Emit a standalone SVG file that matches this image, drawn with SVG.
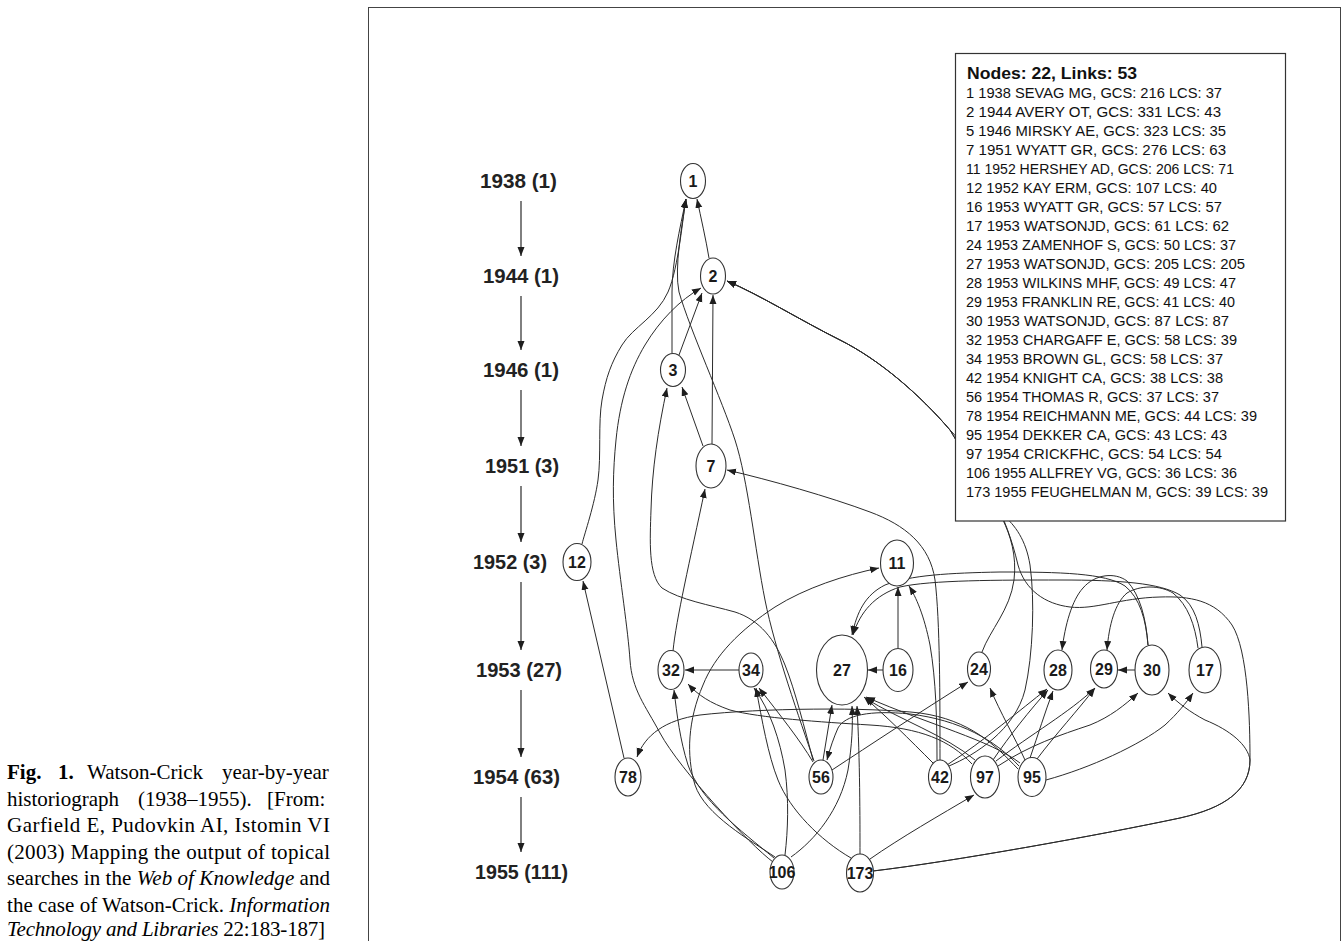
<svg xmlns="http://www.w3.org/2000/svg" width="1344" height="941" viewBox="0 0 1344 941">
<defs>
<marker id="ah" markerUnits="userSpaceOnUse" markerWidth="10" markerHeight="8" refX="9" refY="3.5" orient="auto"><path d="M0,0 L9,3.5 L0,7 z" fill="#1e1e1e"/></marker>
<style>
.edge{fill:none;stroke:#2b2b2b;stroke-width:1;marker-end:url(#ah)}
.yarr{fill:none;stroke:#2b2b2b;stroke-width:1.2;marker-end:url(#ah)}
.node ellipse{fill:#fff;stroke:#333;stroke-width:1.1}
.node text{font-family:"Liberation Sans",Arial,sans-serif;font-weight:bold;font-size:16px;text-anchor:middle;fill:#1a1a1a}
.yr{font-family:"Liberation Sans",Arial,sans-serif;font-weight:bold;font-size:20px;fill:#222}
.lg{font-family:"Liberation Sans",Arial,sans-serif;font-size:14.5px;fill:#111}
.lgh{font-family:"Liberation Sans",Arial,sans-serif;font-size:17px;font-weight:bold;fill:#111}
.cap{font-family:"Liberation Serif","Times New Roman",serif;font-size:21px;fill:#000}
</style>
</defs>
<rect x="0" y="0" width="1344" height="941" fill="#fff"/>
<rect x="368.5" y="7.5" width="972" height="945" fill="none" stroke="#444" stroke-width="1"/>

<g id="caption" class="cap">
<text y="779"><tspan x="7" font-weight="bold">Fig.</tspan><tspan x="58" font-weight="bold">1.</tspan><tspan x="87">Watson-Crick</tspan><tspan x="222">year-by-year</tspan></text>
<text y="805.6"><tspan x="7">historiograph</tspan><tspan x="138">(1938–1955).</tspan><tspan x="267">[From:</tspan></text>
<text x="7" y="832.2" textLength="323" lengthAdjust="spacing">Garfield E, Pudovkin AI, Istomin VI</text>
<text x="7" y="858.8" textLength="323" lengthAdjust="spacing">(2003) Mapping the output of topical</text>
<text x="7" y="885.4" textLength="323" lengthAdjust="spacing">searches in the <tspan font-style="italic">Web of Knowledge</tspan> and</text>
<text x="7" y="912" textLength="323" lengthAdjust="spacing">the case of Watson-Crick. <tspan font-style="italic">Information</tspan></text>
<text x="7" y="936" textLength="318" lengthAdjust="spacing"><tspan font-style="italic">Technology and Libraries</tspan> 22:183-187]</text>
</g>

<g id="years">
<text class="yr" x="480" y="188" textLength="77" lengthAdjust="spacingAndGlyphs">1938 (1)</text>
<text class="yr" x="483" y="283" textLength="76" lengthAdjust="spacingAndGlyphs">1944 (1)</text>
<text class="yr" x="483" y="377" textLength="76" lengthAdjust="spacingAndGlyphs">1946 (1)</text>
<text class="yr" x="485" y="473" textLength="74" lengthAdjust="spacingAndGlyphs">1951 (3)</text>
<text class="yr" x="473" y="569" textLength="74" lengthAdjust="spacingAndGlyphs">1952 (3)</text>
<text class="yr" x="476" y="677" textLength="86" lengthAdjust="spacingAndGlyphs">1953 (27)</text>
<text class="yr" x="473" y="784" textLength="87" lengthAdjust="spacingAndGlyphs">1954 (63)</text>
<text class="yr" x="475" y="879" textLength="93" lengthAdjust="spacingAndGlyphs">1955 (111)</text>
<path class="yarr" d="M521,201 L521,256"/>
<path class="yarr" d="M521,296 L521,350"/>
<path class="yarr" d="M521,390 L521,446"/>
<path class="yarr" d="M521,486 L521,542"/>
<path class="yarr" d="M521,582 L521,650"/>
<path class="yarr" d="M521,690 L521,757"/>
<path class="yarr" d="M521,797 L521,852"/>
</g>

<g id="connectors">
<path class="edge" d="M709,258 C706,240 701,218 697,199"/>
<path class="edge" d="M672,353 L672,292 C672,262 680,228 686,199"/>
<path class="edge" d="M582,544 C584.7,533.3 594.7,504 598,480 C601.3,456 598,422.5 602,400 C606,377.5 611,363 622,345 C633,327 657.3,316.3 668,292 C678.7,267.7 683,214.5 686,199"/>
<path class="edge" d="M814,761 C800,720 775,650 765,600 C755,550 748,480 735,440 C722,400 690,330 679,292 C674,268 682,225 686,199"/>
<path class="edge" d="M712,444 L713,295"/>
<path class="edge" d="M679,355 L702,293"/>
<path class="edge" d="M773,862 C750,845 680,770 660,733 C645,705 632,690 630,660 C628,630 620,580 616,540 C612,500 613,470 616,440 C620,400 630,370 645,345 C660,320 680,300 701,288"/>
<path class="edge" d="M873,871 C950,862 1100,835 1180,818 C1225,808 1250,790 1250,760 C1250,720 1248,650 1232,625 C1215,600 1190,596 1160,597 C1120,598 1095,610 1070,607 C1045,604 1025,590 1018,565 C1012,540 1005,520 990,490 C975,460 960,440 950,430 C920,395 880,360 840,340 C800,320 760,295 727,281"/>
<path class="edge" d="M982,652 C990,630 1010,610 1014,580 C1017,555 1010,535 1003,520 C995,500 965,455 950,430 C920,395 880,360 840,340 C800,320 760,295 727,281"/>
<path class="edge" d="M949,766 C975,755 1015,730 1025,690 C1033,655 1035,600 1030,565 C1026,540 1015,525 1003,515 C990,500 965,455 950,430 C920,395 880,360 840,340 C800,320 760,295 727,281"/>
<path class="edge" d="M703,446 L682,387"/>
<path class="edge" d="M813,760 C805,730 795,690 785,665 C775,640 760,620 735,612 C710,605 680,600 662,588 C648,575 650,540 651,510 C652,470 658,430 667,388"/>
<path class="edge" d="M673,651 C676,620 690,560 705,489"/>
<path class="edge" d="M940,760 C940,700 940,620 935,580 C930,545 905,525 870,512 C830,497 770,480 727,470"/>
<path class="edge" d="M624,758 L583,581"/>
<path class="edge" d="M898,648 L898,587"/>
<path class="edge" d="M937,760 C937,720 936,680 930,645 C924,615 916,597 909,586"/>
<path class="edge" d="M775,857 C750,840 705,815 695,785 C686,755 688,720 703,685 C715,655 740,630 775,607 C805,588 845,575 879,568"/>
<path class="edge" d="M883,670 L868,670"/>
<path class="edge" d="M1202,647 C1200,625 1195,605 1180,595 C1160,583 1120,580 1060,580 C1000,580 930,580 900,587 C875,595 860,612 853,635"/>
<path class="edge" d="M1148,645 C1146,620 1140,598 1125,586 C1105,573 1060,572 1000,572 C950,573 910,575 885,585 C865,595 857,612 852,635"/>
<path class="edge" d="M823,760 L832,705"/>
<path class="edge" d="M860,854 C860,820 860,760 857,706"/>
<path class="edge" d="M791,857 C815,840 840,810 848,770 C852,745 853,725 852,706"/>
<path class="edge" d="M933,763 C910,740 885,715 864,697"/>
<path class="edge" d="M975,760 C945,735 900,720 865,698"/>
<path class="edge" d="M1020,763 C990,740 930,725 866,697"/>
<path class="edge" d="M739,670 L685,670"/>
<path class="edge" d="M774,858 C740,830 700,800 688,765 C680,740 677,715 674,690"/>
<path class="edge" d="M972,764 C950,740 920,728 870,725 C820,722 760,718 730,710 C710,703 698,695 688,684"/>
<path class="edge" d="M813,762 C800,740 780,715 759,688"/>
<path class="edge" d="M851,858 C820,840 790,810 778,780 C768,755 762,720 756,688"/>
<path class="edge" d="M785,855 C788,830 789,800 785,770 C780,740 770,710 754,688"/>
<path class="edge" d="M1135,670 L1118,670"/>
<path class="edge" d="M1198,648 C1195,625 1188,605 1173,593 C1160,585 1140,585 1127,593 C1115,603 1109,625 1107,650"/>
<path class="edge" d="M1148,645 C1146,618 1140,595 1127,581 C1115,572 1095,574 1083,588 C1072,600 1065,625 1062,650"/>
<path class="edge" d="M947,765 C985,740 1020,710 1047,689"/>
<path class="edge" d="M993,760 C1010,735 1030,710 1048,690"/>
<path class="edge" d="M1030,758 C1038,735 1045,712 1053,691"/>
<path class="edge" d="M996,761 C1030,735 1070,712 1095,688"/>
<path class="edge" d="M1037,759 C1055,735 1078,710 1095,688"/>
<path class="edge" d="M998,766 C1030,745 1060,735 1090,725 C1110,717 1125,705 1138,693"/>
<path class="edge" d="M873,871 C950,862 1100,835 1180,818 C1225,808 1250,790 1250,760 C1248,745 1230,730 1205,720 C1190,712 1178,703 1168,693"/>
<path class="edge" d="M1046,780 C1090,768 1140,745 1165,725 C1178,713 1186,703 1193,693"/>
<path class="edge" d="M832,770 C870,745 920,712 968,682"/>
<path class="edge" d="M1025,760 C1015,738 1000,712 990,688"/>
<path class="edge" d="M1019,766 C995,740 960,720 910,714 C870,710 845,715 838,728 C834,737 830,748 827,760"/>
<path class="edge" d="M1018,769 C995,745 970,720 920,713 C870,707 760,708 700,715 C665,720 645,735 637,757"/>
<path class="edge" d="M870,859 C900,838 940,815 974,795"/>
</g>

<g id="legend">
<rect x="955.5" y="53.5" width="330" height="467.5" fill="#fff" stroke="#333" stroke-width="1.2"/>
<text class="lgh" x="967" y="79" textLength="170" lengthAdjust="spacingAndGlyphs">Nodes: 22, Links: 53</text>
<text class="lg" x="966" y="98" textLength="256" lengthAdjust="spacingAndGlyphs">1 1938 SEVAG MG, GCS: 216 LCS: 37</text>
<text class="lg" x="966" y="117" textLength="255" lengthAdjust="spacingAndGlyphs">2 1944 AVERY OT, GCS: 331 LCS: 43</text>
<text class="lg" x="966" y="136" textLength="260" lengthAdjust="spacingAndGlyphs">5 1946 MIRSKY AE, GCS: 323 LCS: 35</text>
<text class="lg" x="966" y="155" textLength="260" lengthAdjust="spacingAndGlyphs">7 1951 WYATT GR, GCS: 276 LCS: 63</text>
<text class="lg" x="966" y="174" textLength="268" lengthAdjust="spacingAndGlyphs">11 1952 HERSHEY AD, GCS: 206 LCS: 71</text>
<text class="lg" x="966" y="193" textLength="251" lengthAdjust="spacingAndGlyphs">12 1952 KAY ERM, GCS: 107 LCS: 40</text>
<text class="lg" x="966" y="212" textLength="256" lengthAdjust="spacingAndGlyphs">16 1953 WYATT GR, GCS: 57 LCS: 57</text>
<text class="lg" x="966" y="231" textLength="263" lengthAdjust="spacingAndGlyphs">17 1953 WATSONJD, GCS: 61 LCS: 62</text>
<text class="lg" x="966" y="250" textLength="270" lengthAdjust="spacingAndGlyphs">24 1953 ZAMENHOF S, GCS: 50 LCS: 37</text>
<text class="lg" x="966" y="269" textLength="279" lengthAdjust="spacingAndGlyphs">27 1953 WATSONJD, GCS: 205 LCS: 205</text>
<text class="lg" x="966" y="288" textLength="270" lengthAdjust="spacingAndGlyphs">28 1953 WILKINS MHF, GCS: 49 LCS: 47</text>
<text class="lg" x="966" y="307" textLength="269" lengthAdjust="spacingAndGlyphs">29 1953 FRANKLIN RE, GCS: 41 LCS: 40</text>
<text class="lg" x="966" y="326" textLength="263" lengthAdjust="spacingAndGlyphs">30 1953 WATSONJD, GCS: 87 LCS: 87</text>
<text class="lg" x="966" y="345" textLength="271" lengthAdjust="spacingAndGlyphs">32 1953 CHARGAFF E, GCS: 58 LCS: 39</text>
<text class="lg" x="966" y="364" textLength="257" lengthAdjust="spacingAndGlyphs">34 1953 BROWN GL, GCS: 58 LCS: 37</text>
<text class="lg" x="966" y="383" textLength="257" lengthAdjust="spacingAndGlyphs">42 1954 KNIGHT CA, GCS: 38 LCS: 38</text>
<text class="lg" x="966" y="402" textLength="253" lengthAdjust="spacingAndGlyphs">56 1954 THOMAS R, GCS: 37 LCS: 37</text>
<text class="lg" x="966" y="421" textLength="291" lengthAdjust="spacingAndGlyphs">78 1954 REICHMANN ME, GCS: 44 LCS: 39</text>
<text class="lg" x="966" y="440" textLength="261" lengthAdjust="spacingAndGlyphs">95 1954 DEKKER CA, GCS: 43 LCS: 43</text>
<text class="lg" x="966" y="459" textLength="256" lengthAdjust="spacingAndGlyphs">97 1954 CRICKFHC, GCS: 54 LCS: 54</text>
<text class="lg" x="966" y="478" textLength="271" lengthAdjust="spacingAndGlyphs">106 1955 ALLFREY VG, GCS: 36 LCS: 36</text>
<text class="lg" x="966" y="497" textLength="302" lengthAdjust="spacingAndGlyphs">173 1955 FEUGHELMAN M, GCS: 39 LCS: 39</text>
</g>

<g id="n1" class="node"><ellipse cx="693" cy="181" rx="12.5" ry="17.5"/><text x="693" y="187">1</text></g>
<g id="n2" class="node"><ellipse cx="713" cy="276" rx="12.5" ry="18"/><text x="713" y="282">2</text></g>
<g id="n3" class="node"><ellipse cx="673" cy="370" rx="12.5" ry="16.5"/><text x="673" y="376">3</text></g>
<g id="n7" class="node"><ellipse cx="711" cy="466" rx="15" ry="22"/><text x="711" y="472">7</text></g>
<g id="n12" class="node"><ellipse cx="577" cy="562" rx="14" ry="18.5"/><text x="577" y="568">12</text></g>
<g id="n11" class="node"><ellipse cx="897" cy="563" rx="16.5" ry="23"/><text x="897" y="569">11</text></g>
<g id="n27" class="node"><ellipse cx="842" cy="670" rx="25.5" ry="35"/><text x="842" y="676">27</text></g>
<g id="n16" class="node"><ellipse cx="898" cy="670" rx="15" ry="21.5"/><text x="898" y="676">16</text></g>
<g id="n24" class="node"><ellipse cx="979" cy="669" rx="11.5" ry="17"/><text x="979" y="675">24</text></g>
<g id="n28" class="node"><ellipse cx="1058" cy="670" rx="14" ry="20"/><text x="1058" y="676">28</text></g>
<g id="n29" class="node"><ellipse cx="1104" cy="669" rx="13.5" ry="19"/><text x="1104" y="675">29</text></g>
<g id="n30" class="node"><ellipse cx="1152" cy="670" rx="17" ry="25"/><text x="1152" y="676">30</text></g>
<g id="n17" class="node"><ellipse cx="1205" cy="670" rx="16" ry="23"/><text x="1205" y="676">17</text></g>
<g id="n32" class="node"><ellipse cx="671" cy="670" rx="13" ry="19.5"/><text x="671" y="676">32</text></g>
<g id="n34" class="node"><ellipse cx="751" cy="670" rx="12" ry="17"/><text x="751" y="676">34</text></g>
<g id="n78" class="node"><ellipse cx="628" cy="777" rx="13" ry="19"/><text x="628" y="783">78</text></g>
<g id="n56" class="node"><ellipse cx="821" cy="777" rx="12" ry="17"/><text x="821" y="783">56</text></g>
<g id="n42" class="node"><ellipse cx="940" cy="777" rx="11.5" ry="17"/><text x="940" y="783">42</text></g>
<g id="n97" class="node"><ellipse cx="985" cy="777" rx="14.5" ry="21"/><text x="985" y="783">97</text></g>
<g id="n95" class="node"><ellipse cx="1032" cy="777" rx="14" ry="19.5"/><text x="1032" y="783">95</text></g>
<g id="n106" class="node"><ellipse cx="782" cy="872" rx="12" ry="17"/><text x="782" y="878">106</text></g>
<g id="n173" class="node"><ellipse cx="860" cy="873" rx="13.5" ry="19"/><text x="860" y="879">173</text></g>
</svg>
